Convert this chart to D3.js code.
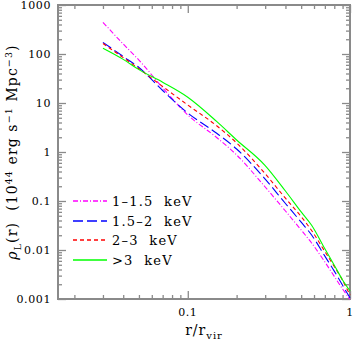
<!DOCTYPE html>
<meta charset="utf-8">
<style type="text/css">
    body { margin: 0; background: #fff; }
    text { font-family: "DejaVu Serif", serif; fill: #000; }
    svg { display: block; }
</style>
<body>
<script src="https://cdn.jsdelivr.net/npm/d3@7"></script>
<script>
// radius in units of r_vir
var radius = [0.03, 0.04, 0.05, 0.07, 0.1, 0.15, 0.2, 0.3, 0.4, 0.5, 0.58, 0.7, 0.8, 0.9, 1.0];

// luminosity density per band (10^44 erg/s/Mpc^3)
var band1 = [443, 160, 75, 20.5, 5.7, 2.0, 0.87, 0.193, 0.0625, 0.0256, 0.0139, 0.0057, 0.0029, 0.0016, 0.00098];
var band2 = [173, 89, 53, 18, 6.25, 2.44, 1.15, 0.28, 0.089, 0.037, 0.0202, 0.0075, 0.0037, 0.0019, 0.00106];
var band3 = [164, 84.5, 50, 21.7, 9.1, 3.47, 1.53, 0.36, 0.114, 0.048, 0.025, 0.0093, 0.0046, 0.0024, 0.0012];
var band4 = [131, 77.6, 48, 26.5, 13.1, 4.25, 1.76, 0.53, 0.16, 0.06, 0.032, 0.0106, 0.0049, 0.00245, 0.00146];

var bandNames = ["1\u20131.5 keV", "1.5\u20132 keV", "2\u20133 keV", ">3 keV"];

var yTickLabels = ["0.001", "0.01", "0.1", "1", "10", "100", "1000"];
var xTickLabels = ["0.1", "1"];

var series = [
    {name: bandNames[0], values: band1, color: "#ff00ff", dash: "5,2,1,2"},
    {name: bandNames[1], values: band2, color: "#0000ff", dash: "10,4"},
    {name: bandNames[2], values: band3, color: "#ff0000", dash: "4,3"},
    {name: bandNames[3], values: band4, color: "#00ff00", dash: null}
];

var W = 354, H = 342;
var margin = {top: 5, right: 4, bottom: 43, left: 58};
var width = W - margin.left - margin.right,
    height = H - margin.top - margin.bottom;

var svg = d3.select("body").append("svg")
    .attr("width", W)
    .attr("height", H);

var chart = svg.append("g")
    .attr("transform", "translate(" + margin.left + "," + margin.top + ")");

var x = d3.scaleLog().domain([Math.pow(10, -1.8), 1]).range([0, width]);
var y = d3.scaleLog().domain([0.001, 1000]).range([height, 0]);

// tick positions
var xMajor = xTickLabels.map(Number);
var xMinor = [];
[0.01, 0.1].forEach(function(d) {
    for (var k = 2; k <= 9; k++) xMinor.push(d * k);
});
xMinor = xMinor.filter(function(v) { return v >= x.domain()[0]; });
var yMajor = yTickLabels.map(Number);
var yMinor = [];
yMajor.slice(0, -1).forEach(function(d) {
    for (var k = 2; k <= 9; k++) yMinor.push(d * k);
});

var axisColor = "#8a8a8a";

function styleAxis(g) {
    g.select(".domain").remove();
    g.selectAll(".tick line").attr("stroke", axisColor).attr("stroke-width", 1.3);
    g.selectAll(".tick text").remove();
}

// inward ticks on all four sides
chart.append("g").attr("transform", "translate(0," + height + ")")
    .call(d3.axisBottom(x).tickValues(xMinor).tickSize(-4)).call(styleAxis);
chart.append("g").attr("transform", "translate(0," + height + ")")
    .call(d3.axisBottom(x).tickValues(xMajor).tickSize(-8)).call(styleAxis);
chart.append("g")
    .call(d3.axisTop(x).tickValues(xMinor).tickSize(-4)).call(styleAxis);
chart.append("g")
    .call(d3.axisTop(x).tickValues(xMajor).tickSize(-8)).call(styleAxis);
chart.append("g")
    .call(d3.axisLeft(y).tickValues(yMinor).tickSize(-4)).call(styleAxis);
chart.append("g")
    .call(d3.axisLeft(y).tickValues(yMajor).tickSize(-8)).call(styleAxis);
chart.append("g").attr("transform", "translate(" + width + ",0)")
    .call(d3.axisRight(y).tickValues(yMinor).tickSize(-4)).call(styleAxis);
chart.append("g").attr("transform", "translate(" + width + ",0)")
    .call(d3.axisRight(y).tickValues(yMajor).tickSize(-8)).call(styleAxis);

// frame
chart.append("rect")
    .attr("width", width).attr("height", height)
    .attr("fill", "none").attr("stroke", axisColor).attr("stroke-width", 2);

// tick labels
chart.selectAll(".ylab").data(yTickLabels).enter().append("text")
    .attr("x", -7)
    .attr("y", function(d) { return y(+d) + 4; })
    .attr("text-anchor", "end")
    .style("font-size", "11px")
    .style("letter-spacing", "0.6px")
    .text(function(d) { return d; });

chart.selectAll(".xlab").data(xTickLabels).enter().append("text")
    .attr("x", function(d) { return x(+d); })
    .attr("y", height + 17)
    .attr("text-anchor", "middle")
    .style("font-size", "11px")
    .style("letter-spacing", "0.6px")
    .text(function(d) { return d; });

// curves
var line = d3.line()
    .x(function(d, i) { return x(radius[i]); })
    .y(function(d) { return y(d); })
    .curve(d3.curveMonotoneX);

chart.selectAll(".curve").data(series).enter().append("path")
    .attr("d", function(d) { return line(d.values); })
    .attr("fill", "none")
    .attr("stroke", function(d) { return d.color; })
    .attr("stroke-width", 1.1)
    .attr("stroke-dasharray", function(d) { return d.dash; });

// legend
var legend = chart.selectAll(".legend").data(series).enter().append("g")
    .attr("transform", function(d, i) { return "translate(15," + Math.round(196 + i * 19.5) + ")"; });

legend.append("line")
    .attr("x1", 0).attr("x2", 34)
    .attr("stroke", function(d) { return d.color; })
    .attr("stroke-width", 1.4)
    .attr("stroke-dasharray", function(d) { return d.dash; });

legend.append("text")
    .attr("x", 39).attr("y", 4.5)
    .style("font-size", "13px")
    .style("letter-spacing", "1.2px")
    .attr("xml:space", "preserve")
    .text(function(d) { return d.name.replace(" ", "  "); });

// x axis title
var xt = svg.append("text")
    .attr("x", margin.left + width / 2)
    .attr("y", 335)
    .attr("text-anchor", "middle")
    .style("font-size", "14px")
    .style("letter-spacing", "1px");
xt.append("tspan").text("r/r");
xt.append("tspan").attr("dy", 4).style("font-size", "10px").text("vir");

// y axis title
var yt = svg.append("text")
    .attr("transform", "translate(17," + (margin.top + height / 2) + ") rotate(-90)")
    .attr("text-anchor", "middle")
    .attr("xml:space", "preserve")
    .style("font-size", "14px")
    .style("letter-spacing", "1.1px");
yt.append("tspan").style("font-style", "italic").text("\u03c1");
yt.append("tspan").attr("dy", 4).style("font-size", "9.5px").text("L");
yt.append("tspan").attr("dy", -4).text("(r)  (10");
yt.append("tspan").attr("dy", -5).style("font-size", "9.5px").text("44");
yt.append("tspan").attr("dy", 5).text(" erg s");
yt.append("tspan").attr("dy", -5).style("font-size", "9.5px").text("\u22121");
yt.append("tspan").attr("dy", 5).text(" Mpc");
yt.append("tspan").attr("dy", -5).style("font-size", "9.5px").text("\u22123");
yt.append("tspan").attr("dy", 5).text(")");
</script>
</body>
